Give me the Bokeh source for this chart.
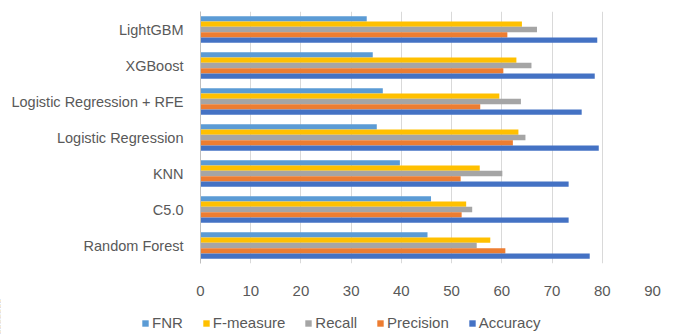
from bokeh.plotting import figure
from bokeh.models import FactorRange, Legend, LegendItem, ColumnDataSource, Range1d
from bokeh.layouts import column, row
from bokeh.transform import dodge
from bokeh.embed import file_html
from bokeh.resources import INLINE

models = ["Random Forest", "C5.0", "KNN", "Logistic Regression",
          "Logistic Regression + RFE", "XGBoost", "LightGBM"]
accuracy = [77.5, 73.3, 73.3, 79.3, 75.9, 78.5, 79.0]
precision = [60.7, 52.0, 51.8, 62.2, 55.7, 60.3, 61.1]
recall = [55.0, 54.1, 60.1, 64.7, 63.8, 65.9, 67.0]
f_measure = [57.7, 52.9, 55.6, 63.3, 59.5, 62.9, 64.0]
fnr = [45.2, 45.9, 39.7, 35.1, 36.3, 34.3, 33.1]
x_ticks = [0, 10, 20, 30, 40, 50, 60, 70, 80, 90]

series = [
    ("FNR", "fnr", "#5B9BD5", 0.292),
    ("F-measure", "f_measure", "#FFC000", 0.146),
    ("Recall", "recall", "#A5A5A5", 0.0),
    ("Precision", "precision", "#ED7D31", -0.146),
    ("Accuracy", "accuracy", "#4472C4", -0.292),
]

source = ColumnDataSource(dict(models=models, accuracy=accuracy, precision=precision,
                               recall=recall, f_measure=f_measure, fnr=fnr))

FONT = "Liberation Sans"
GRAY = "#595959"

p = figure(width=677, height=298, output_backend="svg", toolbar_location=None,
           y_range=FactorRange(factors=models, range_padding=0),
           x_range=(0, 90),
           min_border_left=200, min_border_right=25, min_border_top=11,
           min_border_bottom=35)
p.outline_line_color = None
p.background_fill_color = "white"

for label, col, color, off in series:
    p.hbar(y=dodge("models", off, range=p.y_range), right=col, left=0,
           height=0.146, source=source, fill_color=color, line_color=None)

p.xaxis.ticker = x_ticks
p.xaxis.axis_line_color = None
p.xaxis.major_tick_line_color = None
p.xaxis.minor_tick_line_color = None
p.xaxis.major_label_text_font = FONT
p.xaxis.major_label_text_font_size = "15px"
p.xaxis.major_label_text_color = GRAY
p.xaxis.major_label_standoff = 16

p.yaxis.axis_line_color = "#BFBFBF"
p.yaxis.major_tick_line_color = None
p.yaxis.minor_tick_line_color = None
p.yaxis.major_label_text_font = FONT
p.yaxis.major_label_text_font_size = "14.5px"
p.yaxis.major_label_text_color = GRAY
p.yaxis.major_label_standoff = 11

p.xgrid.grid_line_color = "#D9D9D9"
p.ygrid.grid_line_color = None

# legend strip below the chart (its bars lie outside its visible x range)
lg = figure(width=677, height=36, output_backend="svg", toolbar_location=None,
            y_range=FactorRange(factors=models), x_range=Range1d(1000, 1001),
            x_axis_type=None, y_axis_type=None,
            min_border_left=0, min_border_right=0, min_border_top=0,
            min_border_bottom=0)
lg.grid.visible = False
lg.outline_line_color = None

items = []
for label, col, color, off in series:
    r = lg.hbar(y=dodge("models", off, range=lg.y_range), right=col, left=0,
                height=0.146, source=source, fill_color=color, line_color=None)
    items.append(LegendItem(label=label, renderers=[r]))

legend = Legend(items=items, orientation="horizontal", location=(141, 3),
                label_text_font=FONT, label_text_font_size="15px",
                label_text_color=GRAY, glyph_width=8, glyph_height=8,
                label_standoff=3, spacing=19, padding=0, margin=0,
                border_line_color=None, background_fill_alpha=0)
lg.add_layout(legend, "center")

open("out.html", "w").write(file_html(column(p, row(lg, spacing=0), spacing=0), INLINE))
